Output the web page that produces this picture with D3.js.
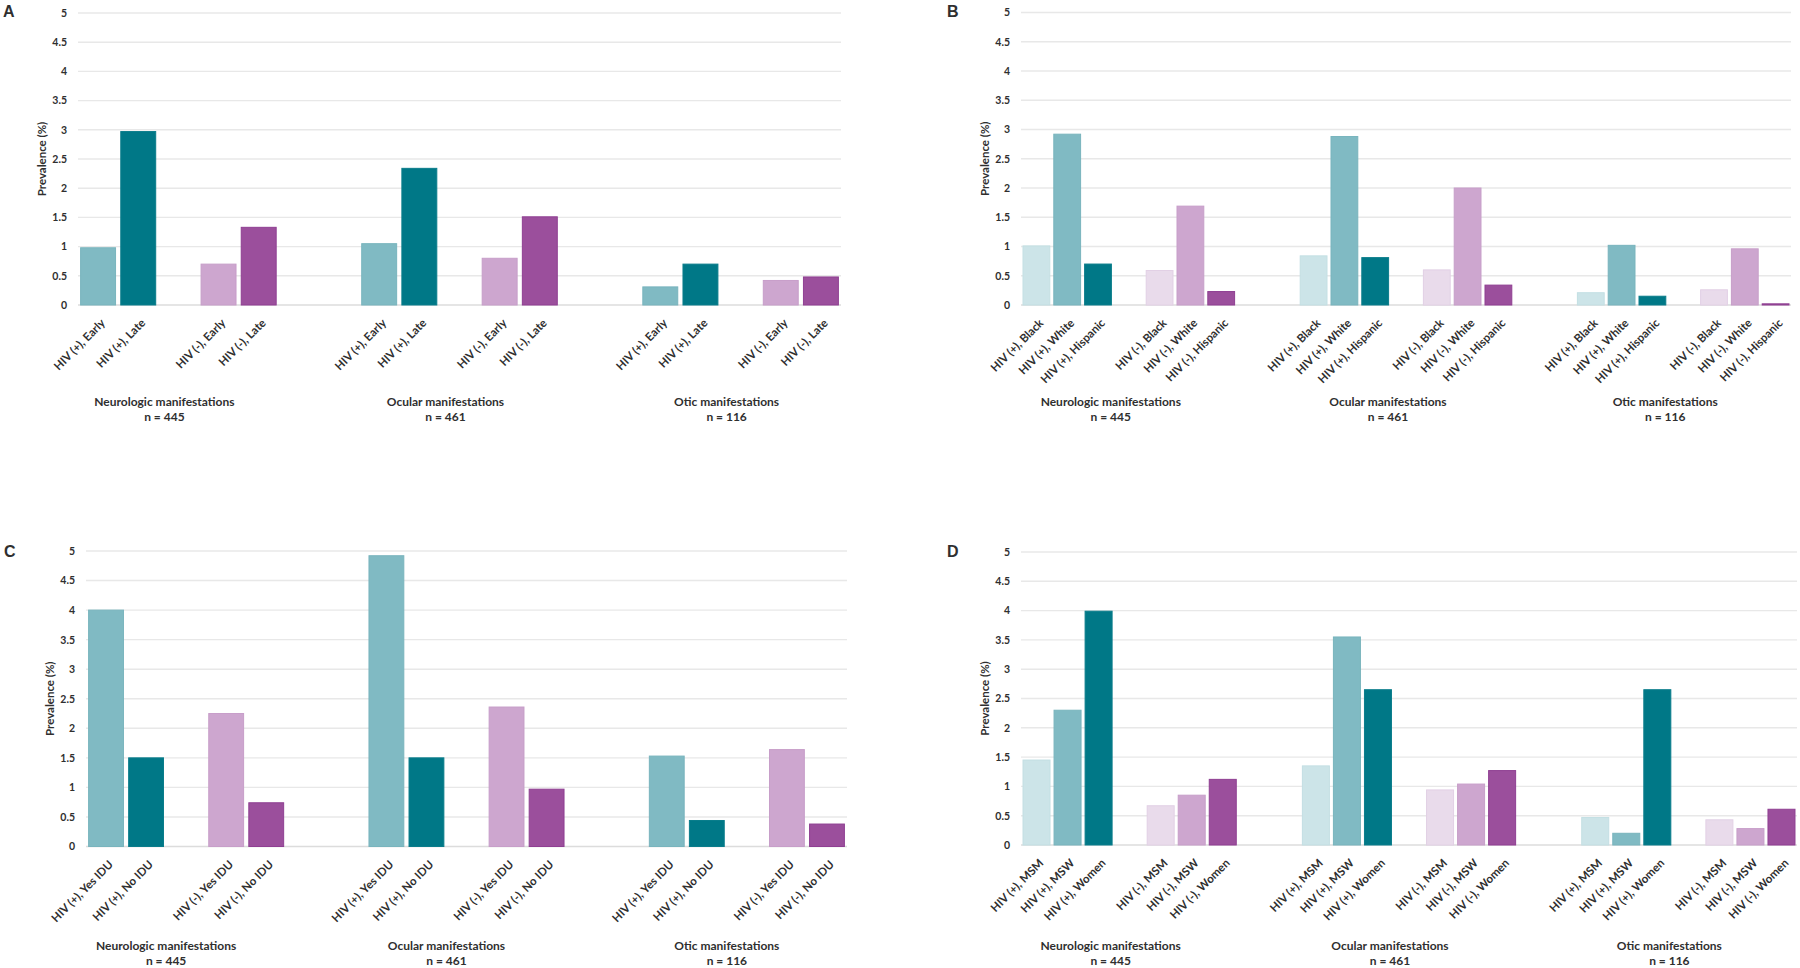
<!DOCTYPE html>
<html>
<head>
<meta charset="utf-8">
<script src="https://cdn.jsdelivr.net/npm/d3@7"></script>
<style>
  html, body { margin: 0; padding: 0; background: #ffffff; }
  svg { display: block; }
  text { font-family: Lato, "Open Sans", sans-serif; fill: #2f2f2f; }
</style>
</head>
<body>
<svg id="chart" width="1800" height="968"></svg>
<script>
// ---------------- DATA ----------------
const groupNames = ["Neurologic manifestations", "Ocular manifestations", "Otic manifestations"];
const groupN = ["n = 445", "n = 461", "n = 116"];
const yTicks = [0, 0.5, 1, 1.5, 2, 2.5, 3, 3.5, 4, 4.5, 5];
const yTickLabels = ["0", "0.5", "1", "1.5", "2", "2.5", "3", "3.5", "4", "4.5", "5"];

// Panel A: disease stage
const catsA = ["HIV (+), Early", "HIV (+), Late", "HIV (-), Early", "HIV (-), Late"];
const shadesA = ["tealMid", "tealDark", "purMid", "purDark"];
const aNeuro = [0.98, 2.97, 0.70, 1.33];
const aOcular = [1.05, 2.34, 0.80, 1.51];
const aOtic = [0.31, 0.70, 0.42, 0.48];

// Panel B: race / ethnicity
const catsB = ["HIV (+), Black", "HIV (+), White", "HIV (+), Hispanic", "HIV (-), Black", "HIV (-), White", "HIV (-), Hispanic"];
const shadesB = ["tealLight", "tealMid", "tealDark", "purLight", "purMid", "purDark"];
const bNeuro = [1.01, 2.92, 0.70, 0.59, 1.69, 0.23];
const bOcular = [0.84, 2.88, 0.81, 0.60, 2.00, 0.34];
const bOtic = [0.21, 1.02, 0.15, 0.26, 0.96, 0.02];

// Panel C: injection drug use
const catsC = ["HIV (+), Yes IDU", "HIV (+), No IDU", "HIV (-), Yes IDU", "HIV (-), No IDU"];
const shadesC = ["tealMid", "tealDark", "purMid", "purDark"];
const cNeuro = [4.00, 1.50, 2.25, 0.74];
const cOcular = [4.92, 1.50, 2.36, 0.97];
const cOtic = [1.53, 0.44, 1.64, 0.38];

// Panel D: sexual behaviour / sex
const catsD = ["HIV (+), MSM", "HIV (+), MSW", "HIV (+), Women", "HIV (-), MSM", "HIV (-), MSW", "HIV (-), Women"];
const shadesD = ["tealLight", "tealMid", "tealDark", "purLight", "purMid", "purDark"];
const dNeuro = [1.45, 2.30, 3.99, 0.67, 0.85, 1.12];
const dOcular = [1.35, 3.55, 2.65, 0.94, 1.04, 1.27];
const dOtic = [0.47, 0.20, 2.65, 0.43, 0.28, 0.61];

// ---------------- STYLE ----------------
const fills = {
  tealLight: "#cce4e8", tealMid: "#80bac3", tealDark: "#007887",
  purLight: "#e9dbeb", purMid: "#cda6cf", purDark: "#9b4f9c"
};
const strokes = {
  tealLight: "#c3dfe3", tealMid: "#78b4bd", tealDark: "#0a7d8b",
  purLight: "#e2d0e5", purMid: "#c79ec9", purDark: "#8f3f92"
};

const panels = [
  { letter: "A", cats: catsA, shades: shadesA, groups: [aNeuro, aOcular, aOtic],
    left: 78, right: 841, top: 13, bottom: 305, lx: 3, ly: 17, labelShift: -14, gY: 406 },
  { letter: "B", cats: catsB, shades: shadesB, groups: [bNeuro, bOcular, bOtic],
    left: 1021, right: 1791, top: 12.5, bottom: 305, lx: 947, ly: 17, labelShift: -18, gY: 406 },
  { letter: "C", cats: catsC, shades: shadesC, groups: [cNeuro, cOcular, cOtic],
    left: 86, right: 847, top: 551, bottom: 846.5, lx: 4, ly: 557, labelShift: -20, gY: 950 },
  { letter: "D", cats: catsD, shades: shadesD, groups: [dNeuro, dOcular, dOtic],
    left: 1021, right: 1797, top: 552, bottom: 845, lx: 947, ly: 557, labelShift: -19, gY: 950 }
];

const svg = d3.select("#chart");

panels.forEach(p => {
  const half = p.cats.length / 2;
  // Build slot list: HIV+ bars, one gap, HIV- bars, two gaps between groups
  const slots = [];
  p.groups.forEach((vals, gi) => {
    p.cats.forEach((c, ci) => {
      if (ci === half) slots.push({ key: `g${gi}-gap`, gap: true });
      slots.push({ key: `g${gi}-${ci}`, gap: false, cat: c, value: vals[ci], shade: p.shades[ci], group: gi });
    });
    if (gi < p.groups.length - 1) {
      slots.push({ key: `g${gi}-sep1`, gap: true });
      slots.push({ key: `g${gi}-sep2`, gap: true });
    }
  });

  const x = d3.scaleBand()
    .domain(slots.map(s => s.key))
    .range([p.left, p.right])
    .paddingInner(0.13)
    .paddingOuter(0.065);
  const y = d3.scaleLinear().domain([0, 5]).range([p.bottom, p.top]);

  const g = svg.append("g");

  // gridlines
  g.append("g").selectAll("line").data(yTicks).join("line")
    .attr("x1", p.left).attr("x2", p.right)
    .attr("y1", d => y(d)).attr("y2", d => y(d))
    .attr("stroke", d => d === 0 ? "#dcdcdc" : "#e8e8e8")
    .attr("stroke-width", 1.4);

  // y axis labels
  const yAxis = d3.axisLeft(y).tickValues(yTicks)
    .tickFormat((d, i) => yTickLabels[i]).tickSize(0).tickPadding(11);
  const ya = g.append("g").attr("transform", `translate(${p.left},0)`).call(yAxis);
  ya.select(".domain").remove();
  ya.selectAll("text")
    .style("font-family", "Lato, sans-serif")
    .style("font-size", "10.5px").style("font-weight", "700").attr("fill", "#2f2f2f");

  // y axis title
  g.append("text")
    .attr("transform", `translate(${p.left - 36},${(p.top + p.bottom) / 2}) rotate(-90)`)
    .attr("text-anchor", "middle").attr("dy", "0.35em")
    .style("font-size", "11.5px").style("font-weight", "700")
    .text("Prevalence (%)");

  // bars
  const bars = slots.filter(s => !s.gap);
  g.append("g").selectAll("rect").data(bars).join("rect")
    .attr("x", d => x(d.key))
    .attr("width", x.bandwidth())
    .attr("y", d => y(d.value))
    .attr("height", d => y(0) - y(d.value))
    .attr("fill", d => fills[d.shade])
    .attr("stroke", d => strokes[d.shade])
    .attr("stroke-width", 1);

  // category labels (rotated)
  g.append("g").selectAll("text").data(bars).join("text")
    .attr("transform", d => `translate(${x(d.key) + x.bandwidth() / 2 + 2},${p.bottom + 13}) rotate(-45)`)
    .attr("text-anchor", "end").attr("dy", "0.71em")
    .style("font-size", "11.5px").style("font-weight", "700")
    .text(d => d.cat);

  // group labels
  p.groups.forEach((vals, gi) => {
    const gb = bars.filter(b => b.group === gi);
    const cx = (x(gb[0].key) + x(gb[gb.length - 1].key) + x.bandwidth()) / 2 + p.labelShift;
    g.append("text").attr("x", cx).attr("y", p.gY)
      .attr("text-anchor", "middle")
      .style("font-size", "12px").style("font-weight", "700")
      .text(groupNames[gi]);
    g.append("text").attr("x", cx).attr("y", p.gY + 15)
      .attr("text-anchor", "middle")
      .style("font-size", "12px").style("font-weight", "700")
      .text(groupN[gi]);
  });

  // panel letter
  g.append("text").attr("x", p.lx).attr("y", p.ly)
    .style("font-family", "'Liberation Sans', Arial, sans-serif")
    .style("font-size", "16px").style("font-weight", "700").attr("fill", "#111")
    .text(p.letter);
});
</script>
</body>
</html>
